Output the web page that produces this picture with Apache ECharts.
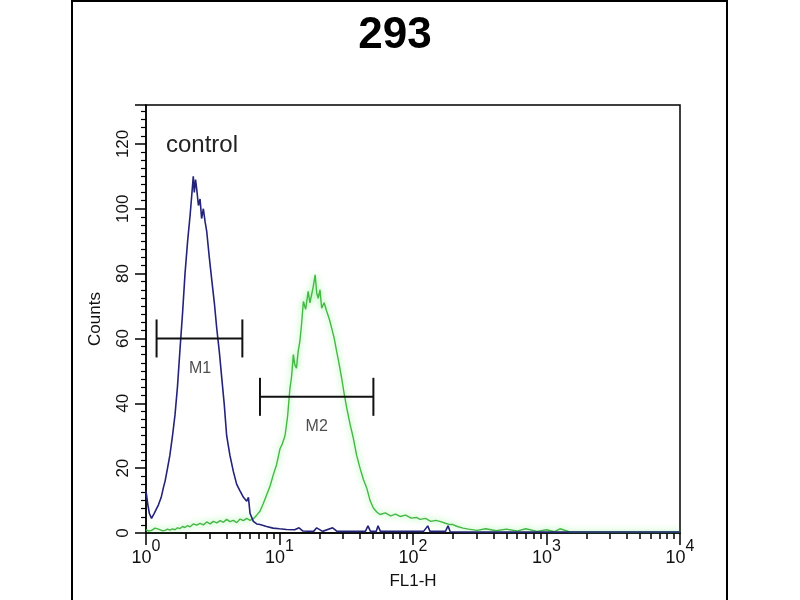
<!DOCTYPE html>
<html>
<head>
<meta charset="utf-8">
<script src="https://cdn.jsdelivr.net/npm/echarts@6/dist/echarts.min.js"></script>
<style>
  html, body { margin: 0; padding: 0; background: #fff; }
  #chart { width: 800px; height: 600px; }
</style>
</head>
<body>
<div id="chart"></div>
<script>
// FL1-H value, counts
const controlCounts = [
  [1.00, 13], [1.03, 9], [1.06, 6], [1.10, 4.5], [1.15, 6], [1.20, 7.5], [1.24, 8.7],
  [1.30, 11], [1.35, 14], [1.39, 16], [1.45, 20], [1.51, 24], [1.58, 30], [1.65, 36.5],
  [1.72, 45], [1.80, 57], [1.88, 68], [1.96, 80], [2.05, 90], [2.14, 98], [2.20, 104],
  [2.26, 110], [2.30, 105], [2.35, 109], [2.40, 106], [2.47, 101], [2.54, 103], [2.61, 97],
  [2.69, 100], [2.77, 96], [2.85, 93], [2.98, 85], [3.11, 78], [3.25, 71], [3.39, 63],
  [3.54, 56], [3.69, 48], [3.85, 40], [4.02, 30], [4.25, 24], [4.51, 19], [4.78, 15],
  [5.06, 13], [5.37, 11], [5.68, 9.8], [5.85, 11], [6.02, 6], [6.37, 3.6], [6.75, 2.8],
  [7.14, 2.6], [8.0, 2], [8.94, 1.5], [10, 1.3], [11.3, 1.1], [13, 1], [14, 1.6], [15, 0.6],
  [18, 0.5], [19, 1.6], [21, 0.5], [25, 1.6], [27, 0.5], [30, 0.5], [40, 0.5], [44, 0.5],
  [46, 2.2], [48, 0.5], [53, 0.5], [54.7, 2.2], [57, 0.5], [85, 0.5], [120, 0.5], [129, 2.2],
  [134, 0.5], [175, 0.5], [183, 2.2], [190, 0.4], [250, 0.3], [1000, 0.3], [10000, 0.3]
];

const sampleCounts = [
  [1.00, 1.0], [1.05, 0.6], [1.10, 0.8], [1.17, 1.5], [1.24, 1.2], [1.32, 0.7], [1.39, 0.8],
  [1.45, 1.2], [1.51, 0.9], [1.58, 1.3], [1.65, 1.0], [1.72, 1.6], [1.80, 1.4], [1.88, 2.0],
  [1.96, 1.7], [2.05, 2.3], [2.14, 1.9], [2.26, 2.8], [2.40, 2.4], [2.54, 3.0], [2.69, 2.5],
  [2.85, 3.4], [3.02, 2.8], [3.20, 3.6], [3.39, 3.1], [3.60, 3.8], [3.80, 3.3], [4.02, 4.2],
  [4.25, 3.5], [4.51, 3.9], [4.78, 3.2], [5.06, 4.3], [5.37, 3.8], [5.68, 4.5], [6.02, 3.9],
  [6.37, 4.4], [6.75, 5.5], [7.14, 6.7], [7.55, 9.0], [8.02, 11.8], [8.50, 14.5], [8.99, 18],
  [9.50, 21], [10.09, 26], [10.5, 27.5], [11.0, 30], [11.5, 36], [11.98, 44.7], [12.3, 48],
  [12.7, 55], [13.0, 52], [13.4, 50.8], [13.8, 56], [14.2, 59], [14.6, 64], [15.1, 71.4],
  [15.7, 69], [16.4, 74.5], [16.9, 71], [17.4, 73.5], [17.9, 76], [18.5, 79.6], [19.0, 74],
  [19.5, 72.4], [20.1, 75], [20.7, 69.3], [21.6, 71], [22.6, 68.3], [23.6, 66], [24.6, 63.2],
  [25.7, 60], [26.8, 56], [28.0, 52], [29.2, 47.8], [30.5, 43], [31.9, 38.5], [33.8, 33.5],
  [35.7, 29.3], [37.8, 24], [40.1, 20], [42.5, 16.5], [45.0, 13.9], [47.7, 10], [50.5, 7.7],
  [53.5, 6.5], [56.6, 5.7], [62, 6.2], [68, 5.3], [74, 5.8], [80, 5.1], [88, 5.5], [97, 4.6],
  [106, 4.8], [113, 4.2], [124, 4.5], [136, 3.6], [148, 3.9], [159, 3.6], [175, 3.0],
  [189, 2.6], [199, 2.6], [215, 2.0], [237, 1.5], [260, 1.2], [302, 0.8], [350, 1.3],
  [420, 0.7], [500, 1.2], [600, 0.6], [700, 1.3], [850, 0.5], [1000, 1.0], [1150, 0.4],
  [1260, 1.3], [1500, 0.3], [2000, 0.3], [4000, 0.3], [10000, 0.3]
];

// marker gates and their labels
const gateM1 = [[1.20, 60], [5.27, 60]];
const gateM2 = [[7.14, 42], [50.5, 42]];
const gateLabels = [[2.54, 50.8, 'M1'], [19.0, 32.9, 'M2']];

const xDecades = [1, 10, 100, 1000, 10000];
const minorSteps = [2, 3, 4, 5, 6, 7, 8, 9];
const yTicks = [0, 20, 40, 60, 80, 100, 120];

const font = 'Liberation Sans, Arial, sans-serif';
const minorTickValues = [];
xDecades.slice(0, -1).forEach(d => minorSteps.forEach(s => minorTickValues.push(d * s)));

const chart = echarts.init(document.getElementById('chart'));

const gateSeries = (data) => ({
  type: 'line',
  data: data,
  symbol: 'rect',
  symbolSize: [2, 38],
  itemStyle: { color: '#111' },
  lineStyle: { color: '#111', width: 2 },
  silent: true,
  z: 5
});

chart.setOption({
  animation: false,
  grid: {
    left: 146, right: 120, top: 105, bottom: 67,
    show: true, borderColor: '#000', borderWidth: 1.5
  },
  graphic: [
    {
      type: 'rect',
      shape: { x: 72, y: 1, width: 655, height: 700 },
      style: { fill: 'none', stroke: '#000', lineWidth: 2 },
      silent: true
    },
    {
      type: 'text',
      style: {
        text: '293', x: 395, y: 36, textAlign: 'center', textVerticalAlign: 'middle',
        font: 'bold 44px ' + font, fill: '#000'
      }
    },
    {
      type: 'text',
      style: {
        text: 'control', x: 166, y: 145, textAlign: 'left', textVerticalAlign: 'middle',
        font: '24px ' + font, fill: '#222'
      }
    }
  ],
  xAxis: [
    {
      type: 'log',
      logBase: 10,
      min: xDecades[0],
      max: xDecades[xDecades.length - 1],
      name: 'FL1-H',
      nameLocation: 'middle',
      nameGap: 40,
      nameTextStyle: { fontSize: 17, color: '#111', fontFamily: font },
      axisLine: { lineStyle: { color: '#000', width: 1.5 } },
      axisTick: { length: 12, lineStyle: { color: '#000', width: 1.5 } },
      axisLabel: {
        margin: 6,
        formatter: function (v) {
          return '{b|10}{s|' + Math.round(Math.log10(v)) + '}';
        },
        rich: {
          b: { fontSize: 18, color: '#111', fontFamily: font, lineHeight: 28, verticalAlign: 'bottom' },
          s: { fontSize: 16, color: '#111', fontFamily: font, lineHeight: 28, verticalAlign: 'top' }
        }
      },
      splitLine: { show: false }
    },
    {
      type: 'log',
      logBase: 10,
      min: xDecades[0],
      max: xDecades[xDecades.length - 1],
      position: 'bottom',
      axisLine: { show: false },
      axisTick: { length: 6, customValues: minorTickValues, lineStyle: { color: '#000', width: 1.5 } },
      axisLabel: { show: false },
      splitLine: { show: false }
    }
  ],
  yAxis: {
    type: 'value',
    min: 0,
    max: 132,
    interval: 20,
    name: 'Counts',
    nameLocation: 'middle',
    nameGap: 42,
    nameTextStyle: { fontSize: 17, color: '#111', fontFamily: font },
    axisLine: { show: true, lineStyle: { color: '#000', width: 1.5 } },
    axisTick: { show: true, length: 11, lineStyle: { color: '#000', width: 1.5 } },
    minorTick: { show: true, splitNumber: 8, length: 5, lineStyle: { color: '#000', width: 1.2 } },
    axisLabel: {
      rotate: 90,
      margin: 14,
      fontSize: 17,
      color: '#111',
      fontFamily: font,
      showMaxLabel: false,
      formatter: v => (yTicks.indexOf(v) >= 0 ? String(v) : '')
    },
    splitLine: { show: false }
  },
  series: [
    {
      type: 'line',
      name: 'sample',
      data: sampleCounts,
      symbol: 'none',
      lineStyle: {
        color: '#44b844', width: 1.4,
        shadowColor: 'rgba(80,235,80,0.75)', shadowBlur: 6
      },
      z: 2
    },
    {
      type: 'line',
      name: 'control',
      data: controlCounts,
      symbol: 'none',
      lineStyle: { color: '#23237a', width: 1.6 },
      z: 3
    },
    gateSeries(gateM1),
    gateSeries(gateM2),
    {
      type: 'scatter',
      data: gateLabels.map(g => ({ value: [g[0], g[1]], name: g[2] })),
      symbolSize: 0,
      label: {
        show: true, position: 'inside', formatter: p => p.name,
        fontSize: 16, color: '#222', fontFamily: font
      },
      silent: true,
      z: 6
    }
  ]
});
</script>
</body>
</html>
